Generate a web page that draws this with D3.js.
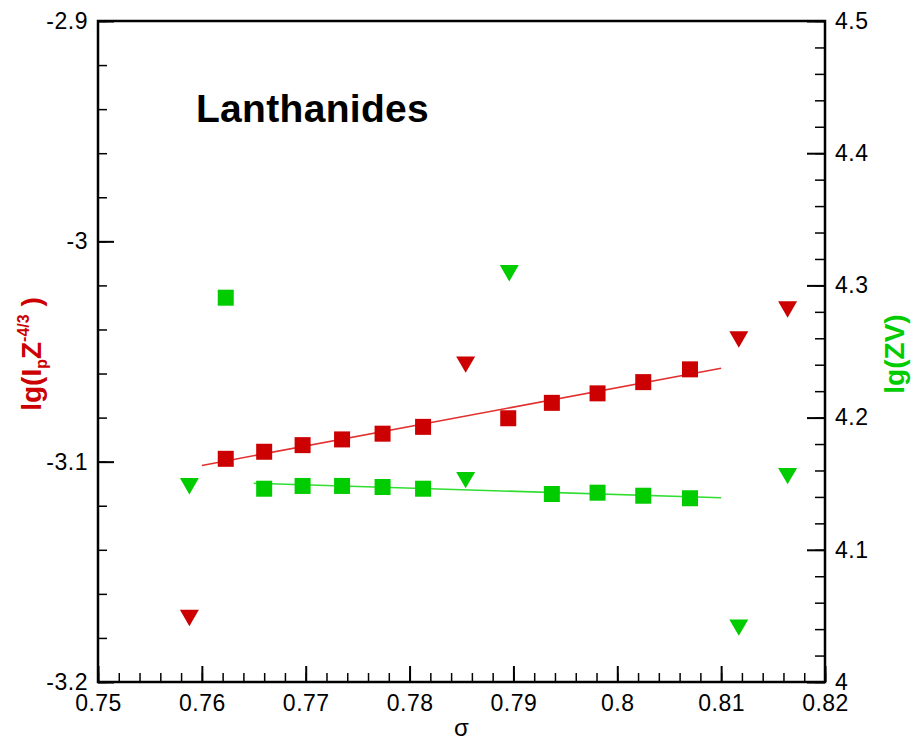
<!DOCTYPE html>
<html lang="en">
<head>
    <meta charset="UTF-8">
    <title>Lanthanides</title>
</head>
<body>
<script src="https://d3js.org/d3.v7.min.js"></script>
<script>
    var width = 912;
    var height = 739;

    // sigma values of the fitted squares
    var sigmaSq = [0.7623, 0.7660, 0.7697, 0.7735, 0.7774, 0.7813, 0.7895, 0.7937, 0.7981, 0.8025, 0.8070];
    var lgIpSq = [-3.0987, -3.0955, -3.0925, -3.0899, -3.0873, -3.0842, -3.0803, -3.0733, -3.0690, -3.0639, -3.0581];

    var sigmaZvSq = [0.7623, 0.7660, 0.7697, 0.7735, 0.7774, 0.7813, 0.7937, 0.7981, 0.8025, 0.8070];
    var lgZvSq = [4.2907, 4.1462, 4.1483, 4.1483, 4.1475, 4.1462, 4.1422, 4.1432, 4.1409, 4.1390];

    // excluded points (triangles)
    var sigmaIpTri = [0.7588, 0.7854, 0.8117, 0.8164];
    var lgIpTri = [-3.1697, -3.0547, -3.0433, -3.0297];

    var sigmaZvTri = [0.7588, 0.7854, 0.7896, 0.8117, 0.8164];
    var lgZvTri = [4.1502, 4.1548, 4.3113, 4.0432, 4.1578];

    // fit lines
    var fitIpSigma = [0.7600, 0.8100];
    var fitIpVal = [-3.1017, -3.0576];
    var fitZvSigma = [0.7650, 0.8100];
    var fitZvVal = [4.1503, 4.1394];

    var xTicks = [0.75, 0.76, 0.77, 0.78, 0.79, 0.8, 0.81, 0.82];
    var leftTicks = [-3.2, -3.1, -3, -2.9];
    var rightTicks = [4, 4.1, 4.2, 4.3, 4.4, 4.5];

    var red = "#cc0000";
    var green = "#00cc00";

    var margin = {left: 98, right: 87, top: 21, bottom: 57};
    var x0 = margin.left, x1 = width - margin.right;
    var y0 = height - margin.bottom, y1 = margin.top;

    var x = d3.scaleLinear().domain([0.75, 0.82]).range([x0, x1]);
    var yL = d3.scaleLinear().domain([-3.2, -2.9]).range([y0, y1]);
    var yR = d3.scaleLinear().domain([4, 4.5]).range([y0, y1]);

    var fmt = function(d) { return String(+d.toFixed(3)); };
    var minor = function(a, b, step) {
        var n = Math.round((b - a) / step);
        return d3.range(n + 1).map(function(i) { return +(a + i * step).toFixed(4); });
    };

    var svg = d3.select("body")
        .append("svg")
        .attr("width", width)
        .attr("height", height);

    // minor ticks
    svg.append("g").attr("class", "axis minor")
        .attr("transform", "translate(0," + y0 + ")")
        .call(d3.axisBottom(x).tickValues(minor(0.75, 0.82, 0.002)).tickSize(-9).tickFormat(""));
    svg.append("g").attr("class", "axis minor")
        .attr("transform", "translate(" + x0 + ",0)")
        .call(d3.axisLeft(yL).tickValues(minor(-3.2, -2.9, 0.02)).tickSize(-9).tickFormat(""));
    svg.append("g").attr("class", "axis minor")
        .attr("transform", "translate(" + x1 + ",0)")
        .call(d3.axisRight(yR).tickValues(minor(4, 4.5, 0.02)).tickSize(-10).tickFormat(""));

    // major ticks + labels
    svg.append("g").attr("class", "axis")
        .attr("transform", "translate(0," + y0 + ")")
        .call(d3.axisBottom(x).tickValues(xTicks).tickSize(-16).tickPadding(13).tickFormat(fmt));
    svg.append("g").attr("class", "axis")
        .attr("transform", "translate(" + x0 + ",0)")
        .call(d3.axisLeft(yL).tickValues(leftTicks).tickSize(-16).tickPadding(10).tickFormat(fmt));
    svg.append("g").attr("class", "axis")
        .attr("transform", "translate(" + x1 + ",0)")
        .call(d3.axisRight(yR).tickValues(rightTicks).tickSize(-18).tickPadding(10).tickFormat(fmt));

    svg.selectAll(".axis .domain").remove();

    svg.append("rect")
        .attr("x", x0)
        .attr("y", y1)
        .attr("width", x1 - x0)
        .attr("height", y0 - y1)
        .attr("fill", "none")
        .attr("stroke", "black")
        .attr("stroke-width", 2.5);

    // fit lines
    var lineL = d3.line().x(function(d) { return x(d[0]); }).y(function(d) { return yL(d[1]); });
    var lineR = d3.line().x(function(d) { return x(d[0]); }).y(function(d) { return yR(d[1]); });

    svg.append("path")
        .datum(d3.zip(fitIpSigma, fitIpVal))
        .attr("d", lineL)
        .attr("fill", "none")
        .attr("stroke", "#e23030")
        .attr("stroke-width", 1.6);

    svg.append("path")
        .datum(d3.zip(fitZvSigma, fitZvVal))
        .attr("d", lineR)
        .attr("fill", "none")
        .attr("stroke", "#30dd30")
        .attr("stroke-width", 1.6);

    // squares
    var sq = 16;
    function squares(xs, ys, yScale, colour) {
        svg.append("g")
            .selectAll("rect")
            .data(d3.zip(xs, ys))
            .enter()
            .append("rect")
            .attr("x", function(d) { return x(d[0]) - sq / 2; })
            .attr("y", function(d) { return yScale(d[1]) - sq / 2; })
            .attr("width", sq)
            .attr("height", sq)
            .attr("fill", colour);
    }

    // down-pointing triangles
    var tri = d3.symbol().type(d3.symbolTriangle).size(156);
    function triangles(xs, ys, yScale, colour) {
        svg.append("g")
            .selectAll("path")
            .data(d3.zip(xs, ys))
            .enter()
            .append("path")
            .attr("d", tri)
            .attr("transform", function(d) {
                return "translate(" + x(d[0]) + "," + yScale(d[1]) + ") rotate(180)";
            })
            .attr("fill", colour);
    }

    squares(sigmaSq, lgIpSq, yL, red);
    squares(sigmaZvSq, lgZvSq, yR, green);
    triangles(sigmaIpTri, lgIpTri, yL, red);
    triangles(sigmaZvTri, lgZvTri, yR, green);

    // titles
    svg.append("text")
        .attr("x", 196)
        .attr("y", 122)
        .attr("class", "title")
        .text("Lanthanides");

    svg.append("text")
        .attr("x", (x0 + x1) / 2)
        .attr("y", 736)
        .attr("class", "xlabel")
        .attr("text-anchor", "middle")
        .text("σ");

    var yl = svg.append("text")
        .attr("class", "ylabel")
        .attr("transform", "translate(41,354) rotate(-90)")
        .attr("text-anchor", "middle")
        .attr("fill", red);
    yl.append("tspan").text("lg(I");
    yl.append("tspan").attr("dy", 6).attr("font-size", 16).text("p");
    yl.append("tspan").attr("dy", -6).text("Z");
    yl.append("tspan").attr("dy", -12).attr("font-size", 16).text("-4/3");
    yl.append("tspan").attr("dy", 12).text(" )");

    svg.append("text")
        .attr("class", "ylabel")
        .attr("transform", "translate(904,354) rotate(-90)")
        .attr("text-anchor", "middle")
        .attr("fill", green)
        .text("lg(ZV)");
</script>
<style>
    body {
        margin: 0;
        background: white;
    }

    text {
        font-family: "Liberation Sans", Arial, sans-serif;
    }

    .axis text {
        font-size: 23px;
        fill: black;
        letter-spacing: 0.5px;
    }

    .axis line {
        stroke: black;
        stroke-width: 2;
    }

    .axis.minor line {
        stroke-width: 1.5;
    }

    .title {
        font-size: 39px;
        font-weight: bold;
        letter-spacing: 0.3px;
    }

    .xlabel {
        font-size: 24px;
    }

    .ylabel {
        font-size: 28px;
        font-weight: bold;
    }
</style>
</body>
</html>
